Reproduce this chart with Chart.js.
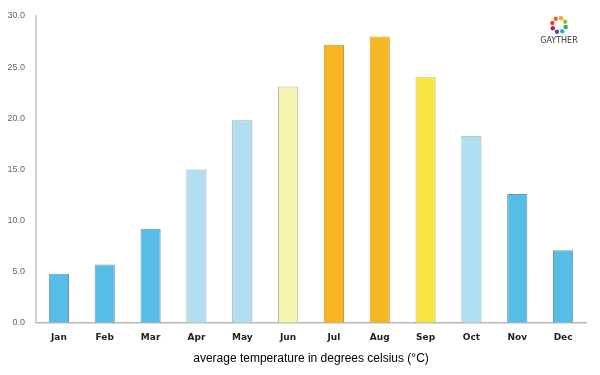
<!DOCTYPE html>
<html lang="en">
<head>
    <meta charset="UTF-8">
    <title>Average Temperature</title>
    <script src="https://cdn.jsdelivr.net/npm/chart.js"></script>
    <style>
        body { margin: 0; background: #fff; }
    </style>
</head>
<body>
    <canvas id="myChart" width="600" height="375"></canvas>
    <script>
        // Chart data
        const months = ['Jan', 'Feb', 'Mar', 'Apr', 'May', 'Jun', 'Jul', 'Aug', 'Sep', 'Oct', 'Nov', 'Dec'];
        const temps = [4.8, 5.7, 9.2, 15.0, 19.8, 23.1, 27.2, 28.0, 24.0, 18.3, 12.6, 7.1];
        const barColors = ['#58bde6', '#58bde6', '#58bde6', '#b1dff1', '#b1dff1', '#f3f5b0',
                           '#f5b621', '#f5b621', '#f9e341', '#b1dff1', '#58bde6', '#58bde6'];
        const borderColors = ['#6a96aa', '#6a96aa', '#6a96aa', '#8fb0bd', '#8fb0bd', '#b8b89a',
                              '#c99a3a', '#c99a3a', '#c8b850', '#8fb0bd', '#6a96aa', '#6a96aa'];
        const xTitle = 'average temperature in degrees celsius (°C)';

        // little logo in the top right corner
        const logoPlugin = {
            id: 'logo',
            afterDraw(chart) {
                const ctx = chart.ctx;
                const cx = 559, cy = 25, r = 7;
                const cols = ['#f5a623', '#8cc63f', '#3aaa35', '#29abe2', '#2e5fa8', '#c2185b', '#e8462b', '#f26522'];
                ctx.save();
                cols.forEach((c, i) => {
                    const a = -Math.PI / 2 + i * Math.PI / 4 + 0.3;
                    ctx.fillStyle = c;
                    ctx.beginPath();
                    ctx.arc(cx + r * Math.cos(a), cy + r * Math.sin(a), 2.2, 0, Math.PI * 2);
                    ctx.fill();
                });
                ctx.fillStyle = '#333';
                ctx.font = '8px "DejaVu Sans"';
                ctx.textAlign = 'center';
                ctx.textBaseline = 'middle';
                ctx.fillText('GAYTHER', cx, cy + 16);
                ctx.restore();
            }
        };

        const ctx = document.getElementById('myChart').getContext('2d');
        new Chart(ctx, {
            type: 'bar',
            data: {
                labels: months,
                datasets: [{
                    data: temps,
                    backgroundColor: barColors,
                    borderColor: borderColors,
                    borderWidth: 1,
                    barPercentage: 0.44,
                    categoryPercentage: 1.0
                }]
            },
            options: {
                responsive: false,
                animation: false,
                layout: { padding: { top: 16, right: 14, left: 0, bottom: 5 } },
                plugins: {
                    legend: { display: false },
                    tooltip: { enabled: false }
                },
                scales: {
                    x: {
                        grid: { display: false },
                        border: { color: '#b8b8b8', width: 1.5 },
                        ticks: {
                            color: '#222',
                            font: { family: 'DejaVu Sans', size: 9, weight: 'bold' },
                            padding: 1
                        },
                        title: {
                            display: true,
                            text: xTitle,
                            color: '#000',
                            font: { family: 'Liberation Sans', size: 12 },
                            padding: { top: 8 }
                        }
                    },
                    y: {
                        min: 0,
                        max: 30,
                        afterFit(scale) { scale.width = 36; },
                        grid: { display: false },
                        border: { color: '#d0d0d0', width: 2 },
                        ticks: {
                            stepSize: 5,
                            color: '#666',
                            font: { family: 'Liberation Sans', size: 9 },
                            callback: v => v.toFixed(1)
                        }
                    }
                }
            },
            plugins: [logoPlugin]
        });
    </script>
</body>
</html>
